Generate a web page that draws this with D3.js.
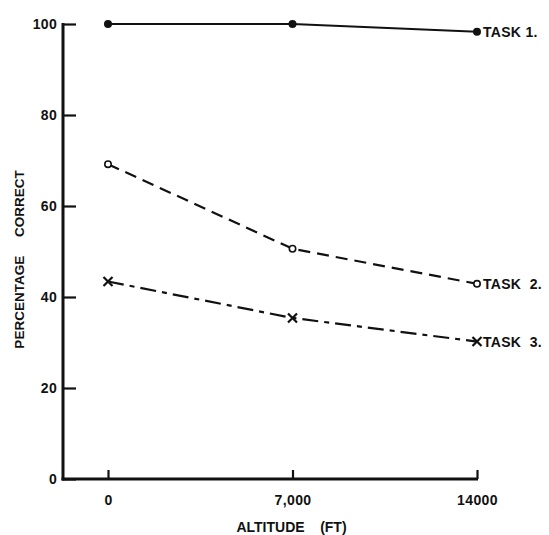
<!DOCTYPE html>
<html>
<head>
<meta charset="utf-8">
<script src="https://cdn.jsdelivr.net/npm/d3@7"></script>
<style>
  html, body { margin: 0; padding: 0; background: #fff; }
  svg { display: block; }
  text { font-family: "Liberation Sans", Arial, sans-serif; fill: #111; font-weight: bold; }
</style>
</head>
<body>
<svg id="chart" width="549" height="535"></svg>
<script>
// ---- data ----
const altitudes = ["0", "7,000", "14000"];
const task1 = [100, 100, 98.3];
const task2 = [69.2, 50.6, 42.9];
const task3 = [43.4, 35.4, 30.2];
const seriesNames = ["TASK 1.", "TASK  2.", "TASK  3."];
const yTicks = [0, 20, 40, 60, 80, 100];
const yTickLabels = ["0", "20", "40", "60", "80", "100"];

// ---- layout ----
const svg = d3.select("#chart");
const axisX = 63;
const x = d3.scalePoint().domain(altitudes).range([108, 477]);
const y = d3.scaleLinear().domain([0, 100]).range([479, 24]);
const ink = "#111";
const font = "Liberation Sans, Arial, sans-serif";

// Y axis
const gy = svg.append("g").attr("transform", `translate(${axisX},0)`)
  .call(d3.axisLeft(y).tickValues(yTicks).tickFormat((d, i) => yTickLabels[i])
    .tickSize(-13).tickSizeOuter(0).tickPadding(6));
gy.select(".domain").remove();
gy.selectAll(".tick line").attr("stroke", ink).attr("stroke-width", 2.2);
gy.selectAll(".tick text").style("font-size", "14px").style("letter-spacing", "0.3px")
  .attr("fill", ink).attr("font-family", font).attr("font-weight", "bold");
svg.append("line").attr("x1", axisX).attr("x2", axisX)
  .attr("y1", y(100) - 1).attr("y2", y(0) + 1.5)
  .attr("stroke", ink).attr("stroke-width", 3);

// X axis
const gx = svg.append("g").attr("transform", `translate(0,${y(0)})`)
  .call(d3.axisBottom(x).tickSize(-9).tickSizeOuter(0).tickPadding(16));
gx.select(".domain").remove();
gx.selectAll(".tick line").attr("stroke", ink).attr("stroke-width", 2.2);
gx.selectAll(".tick text").style("font-size", "14px").style("letter-spacing", "0.4px")
  .attr("fill", ink).attr("font-family", font).attr("font-weight", "bold");
svg.append("line").attr("x1", axisX - 1.5).attr("x2", x(altitudes[2]) + 1)
  .attr("y1", y(0)).attr("y2", y(0))
  .attr("stroke", ink).attr("stroke-width", 3);

// Axis titles
svg.append("text")
  .attr("x", (x(altitudes[0]) + x(altitudes[2])) / 2 - 1)
  .attr("y", 532)
  .attr("text-anchor", "middle")
  .style("font-size", "14px")
  .style("white-space", "pre")
  .text("ALTITUDE    (FT)");

svg.append("text")
  .attr("transform", `translate(24,${(y(0) + y(100)) / 2 + 8}) rotate(-90)`)
  .attr("text-anchor", "middle")
  .style("font-size", "13.5px")
  .style("white-space", "pre")
  .text("PERCENTAGE     CORRECT");

// ---- series ----
const series = [
  { values: task1, dash: null, marker: "dot" },
  { values: task2, dash: "12,7", marker: "ring" },
  { values: task3, dash: "16,6,5,6", marker: "cross" }
];
const line = d3.line().x((d, i) => x(altitudes[i])).y(d => y(d));

series.forEach((s, si) => {
  svg.append("path").datum(s.values)
    .attr("d", line)
    .attr("fill", "none")
    .attr("stroke", ink)
    .attr("stroke-width", 2.2)
    .attr("stroke-dasharray", s.dash);

  const g = svg.append("g");
  s.values.forEach((v, i) => {
    const cx = x(altitudes[i]), cy = y(v);
    if (s.marker === "dot") {
      g.append("circle").attr("cx", cx).attr("cy", cy).attr("r", 4).attr("fill", ink);
    } else if (s.marker === "ring") {
      g.append("circle").attr("cx", cx).attr("cy", cy).attr("r", 3.2)
        .attr("fill", "#fff").attr("stroke", ink).attr("stroke-width", 1.6);
    } else {
      const r = 4.5;
      g.append("path")
        .attr("d", `M${cx - r},${cy - r}L${cx + r},${cy + r}M${cx + r},${cy - r}L${cx - r},${cy + r}`)
        .attr("stroke", ink).attr("stroke-width", 2.2);
    }
  });

  const last = s.values[s.values.length - 1];
  svg.append("text")
    .attr("x", x(altitudes[2]) + 6)
    .attr("y", y(last) + 5.5)
    .style("font-size", "14px")
    .style("letter-spacing", "0.3px")
    .style("white-space", "pre")
    .text(seriesNames[si]);
});
</script>
</body>
</html>
